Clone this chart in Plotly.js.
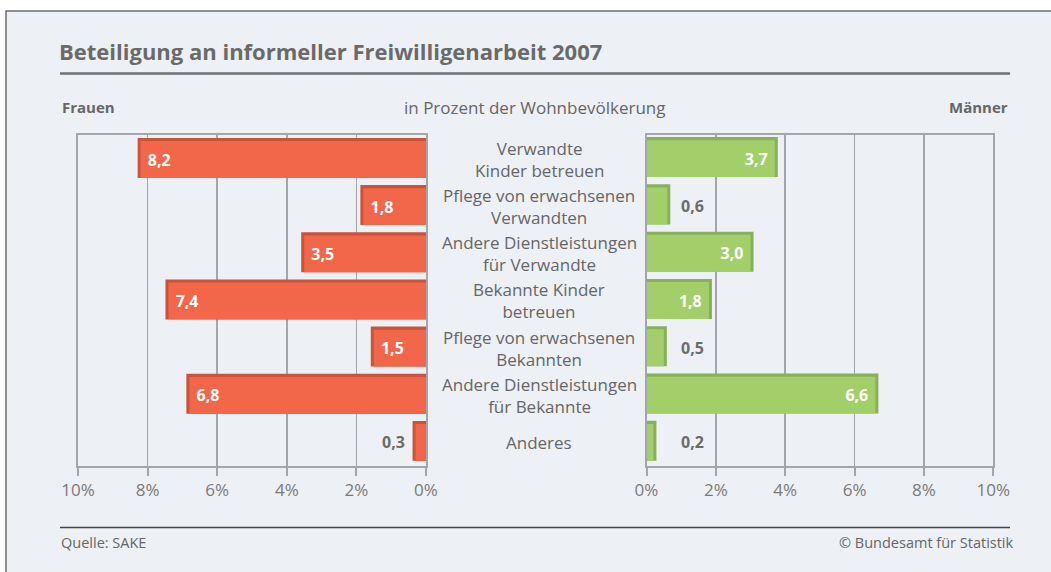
<!DOCTYPE html>
<html>
<head>
<meta charset="utf-8">
<script src="https://cdn.plot.ly/plotly-3.0.1.min.js"></script>
<style>html,body{margin:0;padding:0;background:#fff;}#chart{width:1051px;height:572px;}</style>
</head>
<body>
<div id="chart"></div>
<script>
const categories = [
  "Verwandte<br>Kinder betreuen",
  "Pflege von erwachsenen<br>Verwandten",
  "Andere Dienstleistungen<br>für Verwandte",
  "Bekannte Kinder<br>betreuen",
  "Pflege von erwachsenen<br>Bekannten",
  "Andere Dienstleistungen<br>für Bekannte",
  "Anderes"
];
const frauen = [8.2, 1.8, 3.5, 7.4, 1.5, 6.8, 0.3];
const maenner = [3.7, 0.6, 3.0, 1.8, 0.5, 6.6, 0.2];
const tickVals = [0, 2, 4, 6, 8, 10];

const W = 1051, H = 572;
const FONT = "Open Sans, Noto Sans, sans-serif";
const RED = "#f26649", RED_D = "#c9533b";
const GREEN = "#a3cf6b", GREEN_D = "#86b157";
const GRID = "#a3a5a8";

const fmt = v => v.toFixed(1).replace(".", ",");
const NB = "\u00a0";

function shadow(vals, color, xa, ya) {
  return {
    type: "bar", orientation: "h", x: vals, y: categories,
    xaxis: xa, yaxis: ya, width: 0.72, offset: -0.393,
    marker: {color: color, line: {color: color, width: 6}},
    hoverinfo: "skip", showlegend: false
  };
}
function front(vals, color, xa, ya, left) {
  return {
    type: "bar", orientation: "h", x: vals, y: categories,
    xaxis: xa, yaxis: ya, width: 0.78, offset: -0.39,
    marker: {color: color, line: {width: 0}},
    text: vals.map(v => v >= 1 ? (left ? NB + fmt(v) : fmt(v) + NB) : ""),
    textposition: vals.map(v => v >= 1 ? "inside" : "none"),
    insidetextanchor: "end", textangle: 0, constraintext: "none",
    textfont: {family: FONT, size: 16, color: "#ffffff", weight: 700},
    hoverinfo: "skip", showlegend: false
  };
}

const data = [
  shadow(frauen, RED_D, "x", "y"),
  front(frauen, RED, "x", "y", true),
  shadow(maenner, GREEN_D, "x2", "y2"),
  front(maenner, GREEN, "x2", "y2", false)
];

const px = v => v / W;
const py = v => 1 - v / H;

const xBase = {
  tickvals: tickVals, ticktext: tickVals.map(v => v + "%"),
  showgrid: true, gridcolor: GRID, gridwidth: 1.5,
  showline: true, mirror: true, linecolor: GRID, linewidth: 2,
  ticks: "outside", ticklen: 8, tickwidth: 2, tickcolor: GRID,
  tickfont: {family: FONT, size: 17, color: "#7a7a7a"},
  zeroline: false, fixedrange: true
};
const yBase = {
  autorange: "reversed", showticklabels: false, ticks: "",
  showgrid: false, zeroline: false,
  showline: true, mirror: true, linecolor: GRID, linewidth: 2,
  domain: [py(466), py(135)], fixedrange: true
};

const annotations = [];
categories.forEach(c => annotations.push({
  xref: "paper", yref: "y", x: px(539), y: c, text: c, showarrow: false,
  xanchor: "center", yanchor: "middle",
  font: {family: FONT, size: 17, color: "#666666"}
}));
frauen.forEach((v, i) => { if (v < 1) annotations.push({
  xref: "x", yref: "y", x: 0.55, y: categories[i], text: fmt(v), showarrow: false,
  xanchor: "right", yanchor: "middle",
  font: {family: FONT, size: 16, color: "#6b6b6b", weight: 700}
}); });
maenner.forEach((v, i) => { if (v < 1) annotations.push({
  xref: "x2", yref: "y2", x: 0.94, y: categories[i], text: fmt(v), showarrow: false,
  xanchor: "left", yanchor: "middle",
  font: {family: FONT, size: 16, color: "#6b6b6b", weight: 700}
}); });
annotations.push(
  {xref: "paper", yref: "paper", x: px(60), y: py(107), text: "Frauen", showarrow: false,
   xanchor: "left", yanchor: "middle", font: {family: FONT, size: 15, color: "#666666", weight: 700}},
  {xref: "paper", yref: "paper", x: px(535), y: py(107), text: "in Prozent der Wohnbevölkerung", showarrow: false,
   xanchor: "center", yanchor: "middle", font: {family: FONT, size: 17, color: "#666666"}},
  {xref: "paper", yref: "paper", x: px(1010), y: py(107), text: "Männer", showarrow: false,
   xanchor: "right", yanchor: "middle", font: {family: FONT, size: 15, color: "#666666", weight: 700}},
  {xref: "paper", yref: "paper", x: px(59), y: py(542), text: "Quelle: SAKE", showarrow: false,
   xanchor: "left", yanchor: "middle", font: {family: FONT, size: 14.5, color: "#666666"}},
  {xref: "paper", yref: "paper", x: px(1016), y: py(542), text: "© Bundesamt für Statistik", showarrow: false,
   xanchor: "right", yanchor: "middle", font: {family: FONT, size: 14.5, color: "#666666"}}
);

const layout = {
  width: W, height: H,
  margin: {l: 0, r: 0, t: 0, b: 0, pad: 0},
  paper_bgcolor: "#ffffff", plot_bgcolor: "rgba(0,0,0,0)",
  separators: ", ",
  barmode: "overlay",
  title: {text: "Beteiligung an informeller Freiwilligenarbeit 2007",
          x: px(59), xanchor: "left", xref: "paper", y: py(52), yanchor: "middle", yref: "paper",
          font: {family: FONT, size: 22, color: "#6a6a6a", weight: 700}},
  xaxis: Object.assign({}, xBase, {domain: [px(78), px(426)], range: [10, 0], anchor: "y"}),
  yaxis: Object.assign({}, yBase, {anchor: "x"}),
  xaxis2: Object.assign({}, xBase, {domain: [px(646.5), px(993.3)], range: [0, 10], anchor: "y2"}),
  yaxis2: Object.assign({}, yBase, {anchor: "x2"}),
  shapes: [
    {type: "rect", xref: "paper", yref: "paper", x0: px(6), x1: px(1070), y0: py(600), y1: py(11),
     fillcolor: "#edf0f5", line: {color: "#6e6e6e", width: 1.5}, layer: "below"},
    {type: "line", xref: "paper", yref: "paper", x0: px(60), x1: px(1010), y0: py(73.5), y1: py(73.5),
     line: {color: "#6f7174", width: 2.5}},
    {type: "line", xref: "paper", yref: "paper", x0: px(60), x1: px(1010), y0: py(527.5), y1: py(527.5),
     line: {color: "#444444", width: 1.5}}
  ],
  annotations: annotations
};

Plotly.newPlot("chart", data, layout, {displayModeBar: false, staticPlot: true});
</script>
</body>
</html>
